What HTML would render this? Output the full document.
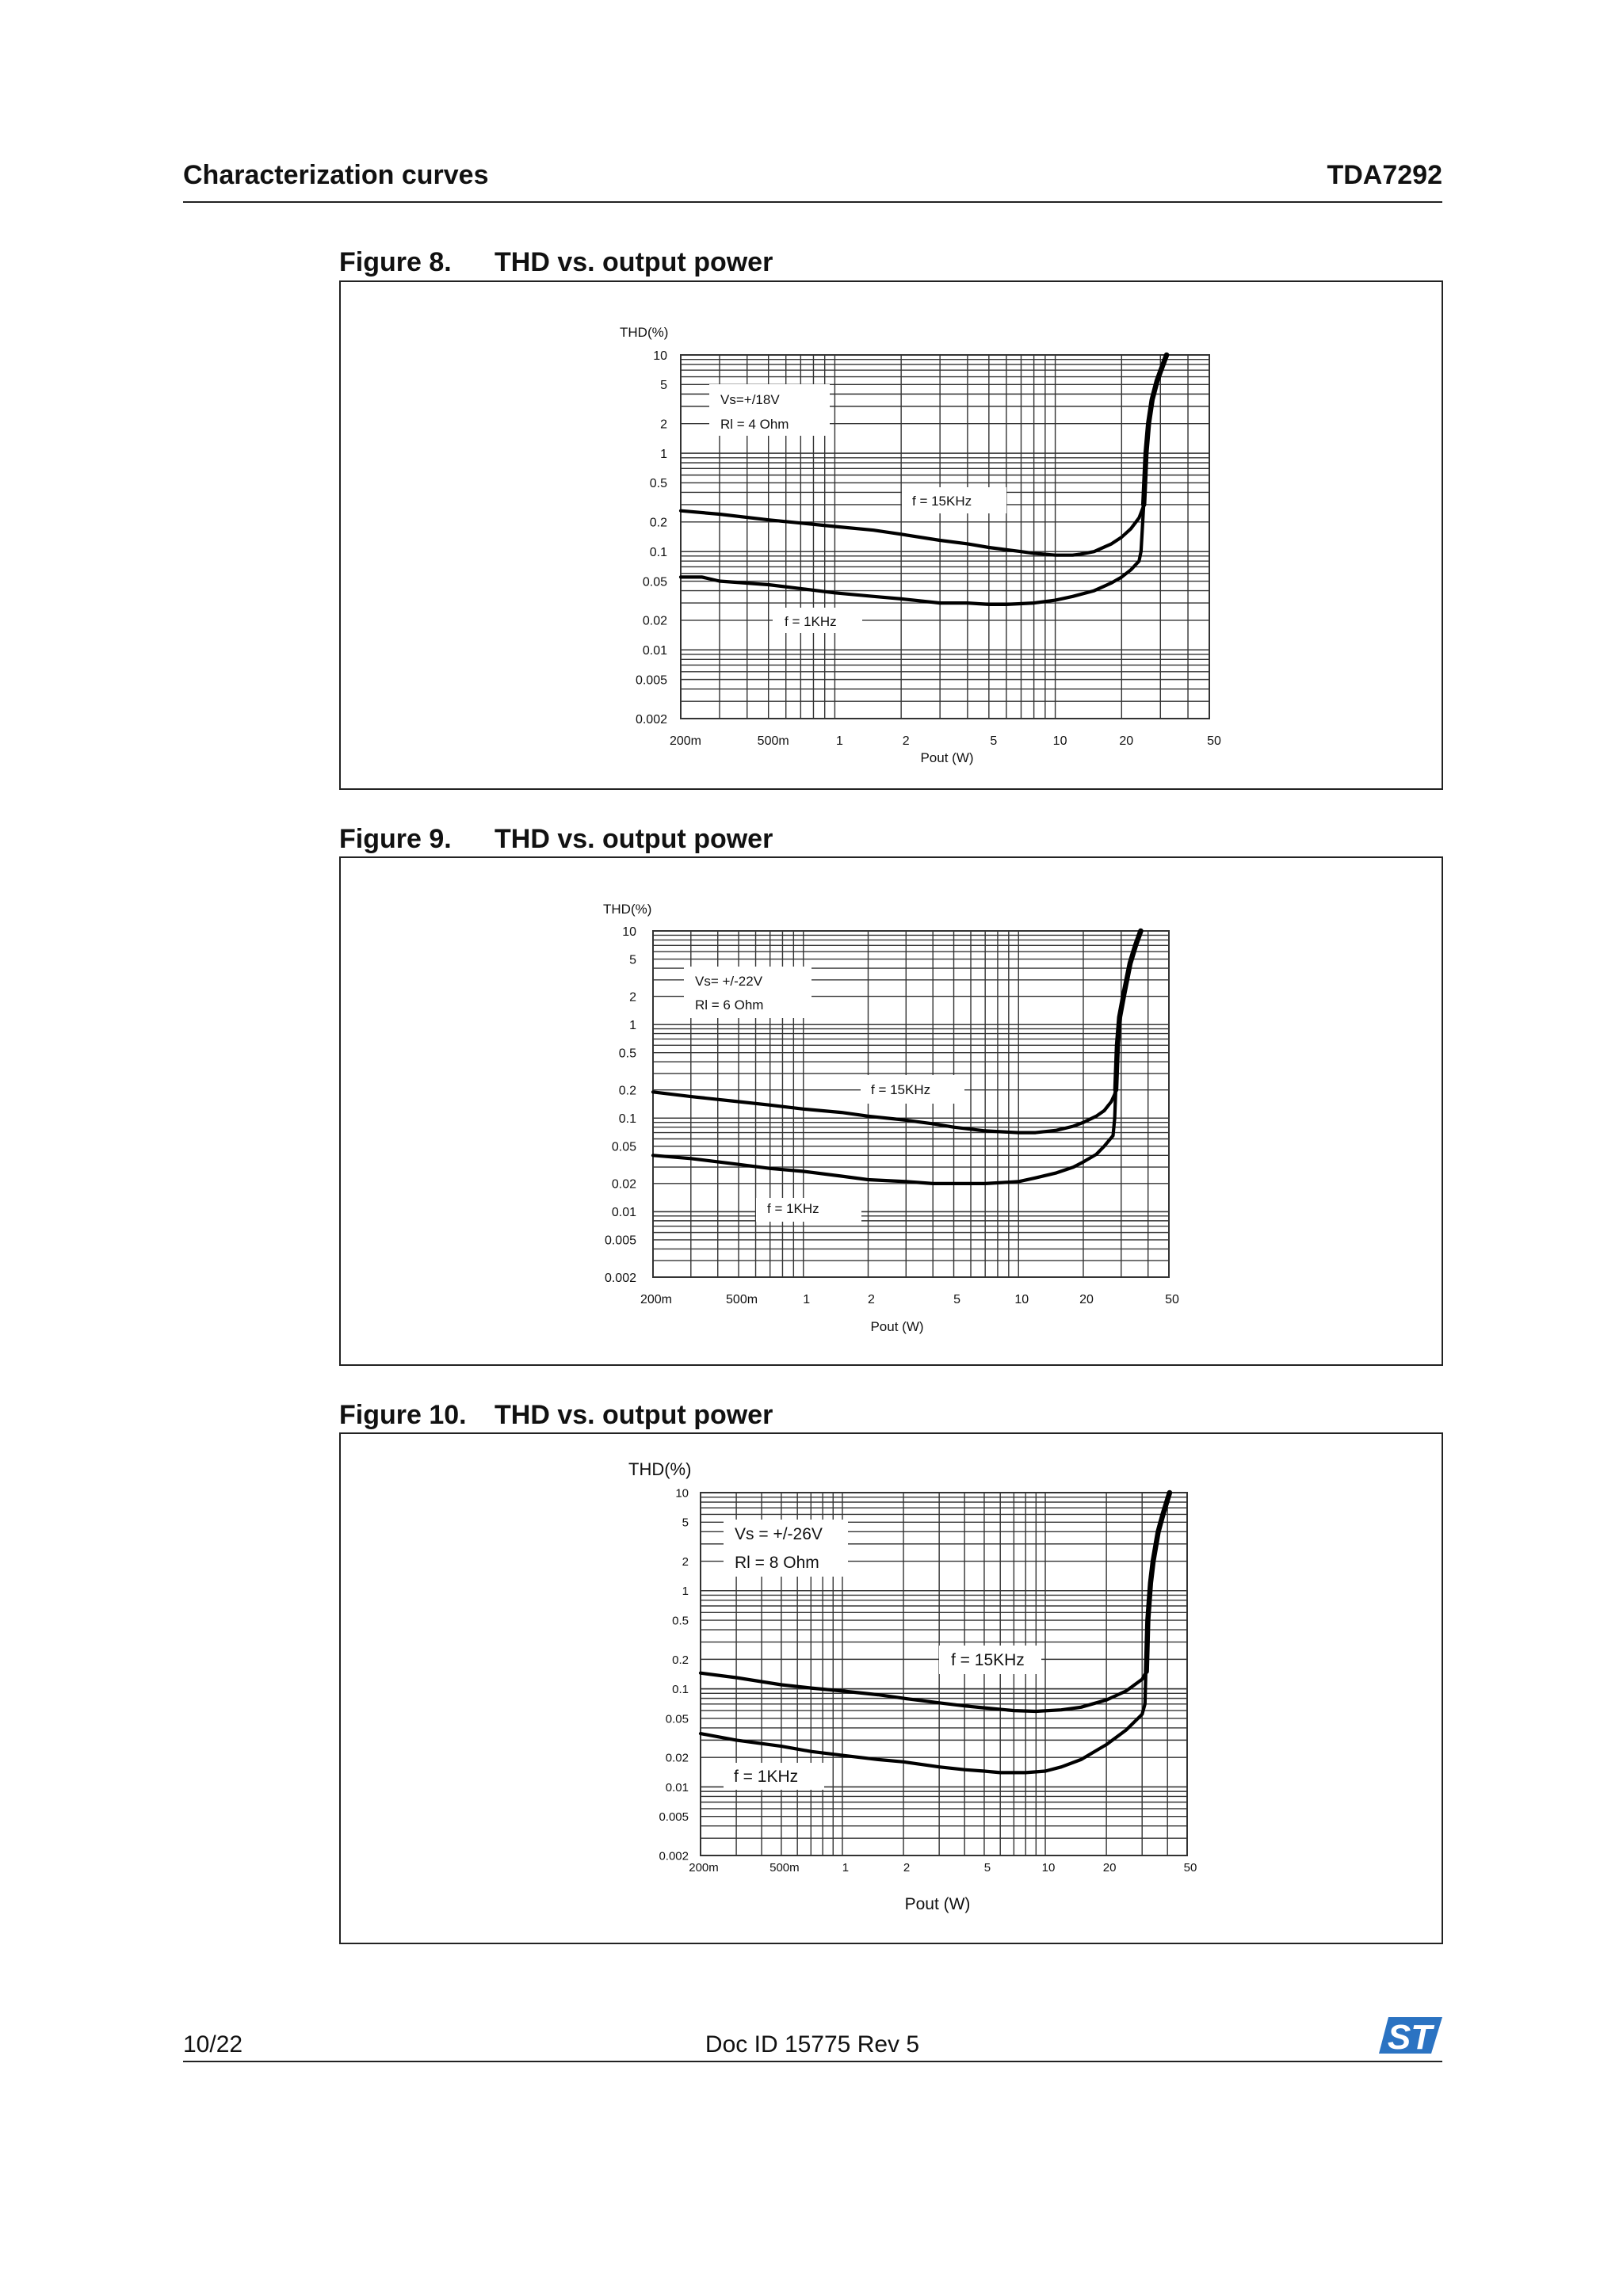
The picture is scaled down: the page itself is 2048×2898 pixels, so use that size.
<!DOCTYPE html>
<html><head><meta charset="utf-8"><style>
html,body{margin:0;padding:0;background:#fff;}
svg{display:block;font-family:"Liberation Sans",Arial,sans-serif;}
</style></head><body>
<svg id="page" width="2048" height="2898" viewBox="0 0 2048 2898" xmlns="http://www.w3.org/2000/svg">
<text x="231" y="232" font-size="34" font-weight="bold" fill="#111">Characterization curves</text>
<text x="1820" y="232" font-size="34" font-weight="bold" text-anchor="end" fill="#111">TDA7292</text>
<rect x="231" y="254" width="1589" height="2" fill="#222"/>

<text x="428" y="342" font-size="34" font-weight="bold" fill="#111">Figure 8.</text>
<text x="624" y="342" font-size="34" font-weight="bold" fill="#111">THD vs. output power</text>
<rect x="429" y="355" width="1391" height="641" fill="none" stroke="#222" stroke-width="2"/>
<g id="chart8"></g>

<text x="428" y="1070" font-size="34" font-weight="bold" fill="#111">Figure 9.</text>
<text x="624" y="1070" font-size="34" font-weight="bold" fill="#111">THD vs. output power</text>
<rect x="429" y="1082" width="1391" height="641" fill="none" stroke="#222" stroke-width="2"/>
<g id="chart9"></g>

<text x="428" y="1797" font-size="34" font-weight="bold" fill="#111">Figure 10.</text>
<text x="624" y="1797" font-size="34" font-weight="bold" fill="#111">THD vs. output power</text>
<rect x="429" y="1809" width="1391" height="644" fill="none" stroke="#222" stroke-width="2"/>
<g id="chart10"></g>

<text x="231" y="2590" font-size="30" fill="#111">10/22</text>
<text x="1025" y="2590" font-size="30" fill="#111" text-anchor="middle">Doc ID 15775 Rev 5</text>
<rect x="231" y="2601" width="1589" height="2" fill="#222"/>
<g>
<path d="M1752 2546 L1820 2546 L1806 2592 L1740 2592 Z" fill="#2b73c2"/>
<text x="1779" y="2586" font-size="44" font-weight="bold" font-style="italic" fill="#fff" text-anchor="middle">ST</text>
</g>
</svg>
<script>
// shared axis ticks
const xTicks = [0.2, 0.5, 1, 2, 5, 10, 20, 50];
const xTickLabels = ['200m', '500m', '1', '2', '5', '10', '20', '50'];
const yTicks = [10, 5, 2, 1, 0.5, 0.2, 0.1, 0.05, 0.02, 0.01, 0.005, 0.002];
const yTickLabels = ['10', '5', '2', '1', '0.5', '0.2', '0.1', '0.05', '0.02', '0.01', '0.005', '0.002'];

// Figure 8 data
const fig8P15 = [0.2, 0.3, 0.5, 0.7, 1, 1.5, 2, 3, 4, 5, 7, 8, 10, 12, 13, 15, 18, 20, 22, 24, 25];
const fig8T15 = [0.26, 0.24, 0.21, 0.195, 0.18, 0.165, 0.15, 0.13, 0.12, 0.11, 0.1, 0.096, 0.092, 0.092, 0.094, 0.1, 0.12, 0.14, 0.17, 0.22, 0.28];
const fig8P1 = [0.2, 0.25, 0.3, 0.5, 0.7, 1, 1.5, 2, 3, 4, 5, 6, 8, 10, 12, 15, 18, 20, 22, 24, 24.5];
const fig8T1 = [0.055, 0.055, 0.05, 0.046, 0.042, 0.038, 0.035, 0.033, 0.03, 0.03, 0.029, 0.029, 0.03, 0.032, 0.035, 0.04, 0.048, 0.055, 0.065, 0.08, 0.1];
const fig8ClipP = [25.2, 25.8, 26.5, 27.5, 29, 30.5, 32];
const fig8ClipT = [0.3, 1, 2, 3.5, 5.5, 7.5, 10];

// Figure 9 data
const fig9P15 = [0.2, 0.3, 0.5, 0.7, 1, 1.5, 2, 3, 4, 5, 7, 10, 12, 15, 18, 20, 23, 25, 27, 28];
const fig9T15 = [0.19, 0.17, 0.15, 0.138, 0.125, 0.115, 0.105, 0.095, 0.087, 0.08, 0.073, 0.07, 0.07, 0.074, 0.082, 0.09, 0.105, 0.12, 0.15, 0.18];
const fig9P1 = [0.2, 0.3, 0.5, 0.7, 1, 1.5, 2, 3, 4, 5, 7, 10, 12, 15, 18, 20, 23, 25, 27.5, 28];
const fig9T1 = [0.04, 0.037, 0.032, 0.029, 0.027, 0.024, 0.022, 0.021, 0.02, 0.02, 0.02, 0.021, 0.023, 0.026, 0.03, 0.034, 0.041, 0.05, 0.065, 0.1];
const fig9ClipP = [28.3, 28.8, 29.5, 31, 33, 35, 37];
const fig9ClipT = [0.2, 0.6, 1.2, 2.2, 4.5, 7, 10];

// Figure 10 data
const fig10P15 = [0.2, 0.3, 0.5, 0.7, 1, 1.5, 2, 3, 4, 5, 7, 9, 12, 15, 20, 25, 30, 31.5];
const fig10T15 = [0.145, 0.13, 0.11, 0.102, 0.095, 0.087, 0.08, 0.072, 0.067, 0.064, 0.06, 0.059, 0.061, 0.065, 0.077, 0.095, 0.125, 0.15];
const fig10P1 = [0.2, 0.3, 0.5, 0.7, 1, 1.5, 2, 3, 4, 5, 6, 8, 10, 12, 15, 20, 25, 30, 31, 31.3];
const fig10T1 = [0.035, 0.03, 0.026, 0.023, 0.021, 0.019, 0.018, 0.016, 0.015, 0.0145, 0.014, 0.014, 0.0145, 0.016, 0.019, 0.027, 0.038, 0.055, 0.07, 0.15];
const fig10ClipP = [31.5, 32, 33, 34, 36, 38, 41];
const fig10ClipT = [0.15, 0.5, 1.2, 2, 4, 6, 10];

const NS = 'http://www.w3.org/2000/svg';
function mk(tag, attrs, parent) {
  const e = document.createElementNS(NS, tag);
  for (const k in attrs) e.setAttribute(k, attrs[k]);
  parent.appendChild(e);
  return e;
}

function drawChart(id, g, s15P, s15T, s1P, s1T, clipP, clipT) {
  const root = document.getElementById(id);
  const xs = v => g.l + (Math.log10(v) - Math.log10(0.2)) / (Math.log10(50) - Math.log10(0.2)) * (g.r - g.l);
  const ys = v => g.t + (Math.log10(10) - Math.log10(v)) / (Math.log10(10) - Math.log10(0.002)) * (g.b - g.t);

  const grid = mk('g', {stroke: '#333', 'stroke-width': 1.4}, root);
  
  
  const xd = [0.1, 1, 10];
  xd.forEach(d => { for (let m = 1; m < 10; m++) { const v = d * m; if (v < 0.2 - 1e-9 || v > 50 + 1e-9) continue;
    const ln = mk('line', {x1: xs(v), x2: xs(v), y1: g.t, y2: g.b}, grid);
    
    
  }});
  const yd = [0.001, 0.01, 0.1, 1];
  yd.forEach(d => { for (let m = 1; m <= 10; m++) { const v = d * m; if (v < 0.002 - 1e-9 || v > 10 + 1e-9) continue;
    const ln = mk('line', {x1: g.l, x2: g.r, y1: ys(v), y2: ys(v)}, grid);
    
    
  }});
  const border = mk('rect', {x: g.l, y: g.t, width: g.r - g.l, height: g.b - g.t, fill: 'none', stroke: '#333', 'stroke-width': 2}, root);
  
  

  g.boxes.forEach(bx => {
    const r = mk('rect', {x: bx.x, y: bx.y, width: bx.w, height: bx.h, fill: '#fff'}, root);
    
    
    bx.lines.forEach(t => {
      const tx = mk('text', {x: t.x, y: t.y, 'font-size': g.lblSize, fill: '#111'}, root);
      
      
      tx.setAttribute('xml:space', 'preserve');
      tx.textContent = t.s;
    });
  });

  yTicks.forEach((v, i) => {
    const t = mk('text', {x: g.yLabX, y: ys(v) + g.tickSize * 0.36, 'font-size': g.tickSize, 'text-anchor': 'end', fill: '#111'}, root);
    
    
    t.textContent = yTickLabels[i];
  });
  xTicks.forEach((v, i) => {
    const t = mk('text', {x: xs(v) + g.xLabDx, y: g.xLabY, 'font-size': g.tickSize, 'text-anchor': 'middle', fill: '#111'}, root);
    
    
    t.textContent = xTickLabels[i];
  });
  const xt = mk('text', {x: g.xTitleX, y: g.xTitleY, 'font-size': g.titleSize, 'text-anchor': 'middle', fill: '#111'}, root);
  
  
  xt.textContent = 'Pout (W)';
  const yt = mk('text', {x: g.yTitleX, y: g.yTitleY, 'font-size': g.yTitleSize, fill: '#111'}, root);
  
  
  yt.textContent = 'THD(%)';

  const pts = (P, T) => P.map((p, i) => xs(p).toFixed(1) + ',' + ys(T[i]).toFixed(1));
  const c15 = mk('polyline', {points: pts(s15P, s15T).concat(pts(clipP.slice(0, 1), clipT.slice(0, 1))).join(' '), fill: 'none', stroke: '#000', 'stroke-width': 4.2, 'stroke-linejoin': 'round', 'stroke-linecap': 'round'}, root);
  
  
  const c1 = mk('polyline', {points: pts(s1P, s1T).concat(pts(clipP.slice(0, 1), clipT.slice(0, 1))).join(' '), fill: 'none', stroke: '#000', 'stroke-width': 4.2, 'stroke-linejoin': 'round', 'stroke-linecap': 'round'}, root);
  
  
  const cc = mk('polyline', {points: pts(clipP, clipT).join(' '), fill: 'none', stroke: '#000', 'stroke-width': 6.5, 'stroke-linejoin': 'round', 'stroke-linecap': 'round'}, root);
  
  
}

drawChart('chart8', {l: 859, t: 448, r: 1526, b: 907, yLabX: 842, xLabY: 940, xLabDx: 6, tickSize: 16, lblSize: 17, titleSize: 17, xTitleX: 1195, xTitleY: 962, yTitleX: 782, yTitleY: 425, yTitleSize: 17,
  boxes: [
    {name: 'condition-label', x: 895, y: 485, w: 152, h: 65, lines: [{x: 909, y: 510, s: 'Vs=+/18V'}, {x: 909, y: 541, s: 'Rl = 4 Ohm'}]},
    {name: 'series-label-15khz', x: 1138, y: 615, w: 132, h: 33, lines: [{x: 1151, y: 638, s: 'f = 15KHz'}]},
    {name: 'series-label-1khz', x: 975, y: 767, w: 113, h: 32, lines: [{x: 990, y: 790, s: 'f = 1KHz'}]}
  ]}, fig8P15, fig8T15, fig8P1, fig8T1, fig8ClipP, fig8ClipT);

drawChart('chart9', {l: 824, t: 1175, r: 1475, b: 1612, yLabX: 803, xLabY: 1645, xLabDx: 4, tickSize: 16, lblSize: 17, titleSize: 17, xTitleX: 1132, xTitleY: 1680, yTitleX: 761, yTitleY: 1153, yTitleSize: 17,
  boxes: [
    {name: 'condition-label', x: 863, y: 1220, w: 161, h: 65, lines: [{x: 877, y: 1244, s: 'Vs= +/-22V'}, {x: 877, y: 1274, s: 'Rl = 6 Ohm'}]},
    {name: 'series-label-15khz', x: 1086, y: 1357, w: 131, h: 36, lines: [{x: 1099, y: 1381, s: 'f  = 15KHz'}]},
    {name: 'series-label-1khz', x: 954, y: 1512, w: 133, h: 30, lines: [{x: 968, y: 1531, s: 'f = 1KHz'}]}
  ]}, fig9P15, fig9T15, fig9P1, fig9T1, fig9ClipP, fig9ClipT);

drawChart('chart10', {l: 884, t: 1884, r: 1498, b: 2342, yLabX: 869, xLabY: 2362, xLabDx: 4, tickSize: 15, lblSize: 21, titleSize: 21, xTitleX: 1183, xTitleY: 2410, yTitleX: 793, yTitleY: 1862, yTitleSize: 22,
  boxes: [
    {name: 'condition-label', x: 913, y: 1918, w: 157, h: 72, lines: [{x: 927, y: 1943, s: 'Vs = +/-26V'}, {x: 927, y: 1979, s: 'Rl = 8 Ohm'}]},
    {name: 'series-label-15khz', x: 1185, y: 2077, w: 129, h: 36, lines: [{x: 1200, y: 2102, s: 'f  = 15KHz'}]},
    {name: 'series-label-1khz', x: 913, y: 2225, w: 127, h: 34, lines: [{x: 926, y: 2249, s: 'f  = 1KHz'}]}
  ]}, fig10P15, fig10T15, fig10P1, fig10T1, fig10ClipP, fig10ClipT);
</script>
</body></html>
